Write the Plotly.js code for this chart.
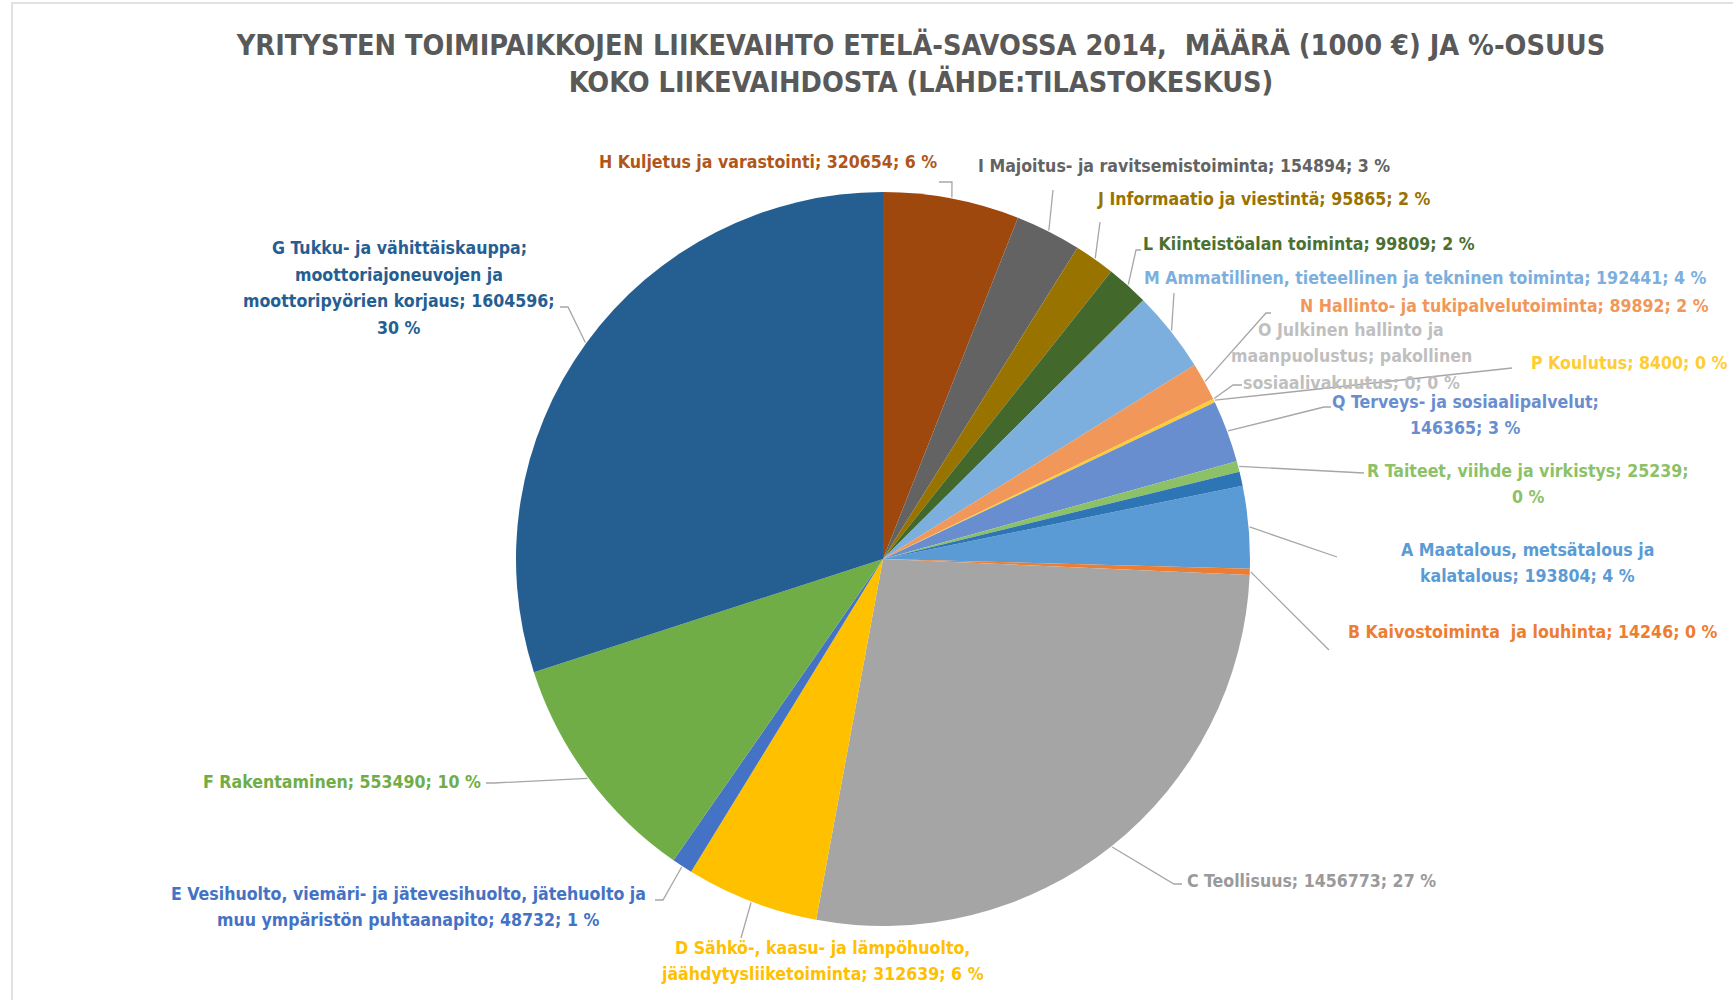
<!DOCTYPE html>
<html><head><meta charset="utf-8">
<script src="https://cdn.plot.ly/plotly-3.0.1.min.js"></script>
<style>html,body{margin:0;padding:0;background:#fff}#chart{width:1733px;height:1000px}</style>
</head><body><div id="chart"></div>
<script>
// ---- DATA ----
var codes = ['A','B','C','D','E','F','G','H','I','J','L','M','N','O','P','Q','R','S'];
var names = [
  'A Maatalous, metsätalous ja kalatalous',
  'B Kaivostoiminta  ja louhinta',
  'C Teollisuus',
  'D Sähkö-, kaasu- ja lämpöhuolto, jäähdytysliiketoiminta',
  'E Vesihuolto, viemäri- ja jätevesihuolto, jätehuolto ja muu ympäristön puhtaanapito',
  'F Rakentaminen',
  'G Tukku- ja vähittäiskauppa; moottoriajoneuvojen ja moottoripyörien korjaus',
  'H Kuljetus ja varastointi',
  'I Majoitus- ja ravitsemistoiminta',
  'J Informaatio ja viestintä',
  'L Kiinteistöalan toiminta',
  'M Ammatillinen, tieteellinen ja tekninen toiminta',
  'N Hallinto- ja tukipalvelutoiminta',
  'O Julkinen hallinto ja maanpuolustus; pakollinen sosiaalivakuutus',
  'P Koulutus',
  'Q Terveys- ja sosiaalipalvelut',
  'R Taiteet, viihde ja virkistys',
  'S Muu palvelutoiminta'
];
var values = [193804, 14246, 1456773, 312639, 48732, 553490, 1604596, 320654, 154894, 95865, 99809, 192441, 89892, 0, 8400, 146365, 25239, 33000];
var colors = ['#5B9BD5','#ED7D31','#A5A5A5','#FFC000','#4472C4','#70AD47','#255E91','#9E480E','#636363','#997300','#43682B','#7CAFDD','#F1975A','#B7B7B7','#FFCD33','#698ED0','#8CC168','#2E75B6'];
var titleText = 'YRITYSTEN TOIMIPAIKKOJEN LIIKEVAIHTO ETELÄ-SAVOSSA 2014,  MÄÄRÄ (1000 €) JA %-OSUUS<br>KOKO LIIKEVAIHDOSTA (LÄHDE:TILASTOKESKUS)';

// ---- LAYOUT (pixel positions in the 1733x1000 page) ----
var W = 1733, H = 1000;
var CX = 883, CY = 559, R = 367;
var FONT = "'DejaVu Sans Condensed', 'DejaVu Sans', sans-serif";
var LABEL_SIZE = 17.6, LINE_STEP = 26.5;
// label placement: anchor point, anchor, line breaks, leader elbow and tail
var labelSpec = {
  H: {x: 939, y: 162, xa: 'right', brk: [], elbow: [952,182], tail: [939,182], color: '#B0561A'},
  I: {x: 976, y: 166, xa: 'left', brk: [], elbow: [1053,190]},
  J: {x: 1095, y: 199, xa: 'left', brk: [], elbow: [1100,222]},
  L: {x: 1141, y: 244, xa: 'left', brk: [], elbow: [1136,250], tail: [1141,250], color: '#4A7032'},
  M: {x: 1142, y: 278, xa: 'left', brk: [], elbow: [1174,293]},
  N: {x: 1298, y: 306, xa: 'left', brk: [], elbow: [1266,313], tail: [1271,313]},
  O: {x: 1351, y: 356, xa: 'center', brk: ['hallinto ja', 'pakollinen'], elbow: [1233,385], tail: [1242,385], color: '#BFBFBF'},
  P: {x: 1529, y: 363, xa: 'left', brk: [], elbow: [1512,368]},
  Q: {x: 1465, y: 415, xa: 'center', brk: ['sosiaalipalvelut;'], elbow: [1324,407], tail: [1331,407]},
  R: {x: 1528, y: 484, xa: 'center', brk: ['25239;'], elbow: [1364,473]},
  A: {x: 1527, y: 563, xa: 'center', brk: ['metsätalous ja'], elbow: [1337,557]},
  B: {x: 1346, y: 632, xa: 'left', brk: [], elbow: [1329,650]},
  C: {x: 1185, y: 881, xa: 'left', brk: [], elbow: [1174,884], tail: [1182,884], color: '#9A9A9A'},
  D: {x: 822, y: 961, xa: 'center', brk: ['lämpöhuolto,'], elbow: [741,938]},
  E: {x: 408, y: 907, xa: 'center', brk: ['jätehuolto ja'], elbow: [663,900], tail: [655,900]},
  F: {x: 483, y: 782, xa: 'right', brk: [], elbow: [494,783], tail: [486,783]},
  G: {x: 399, y: 288, xa: 'center', brk: ['kauppa;', 'moottoriajoneuvojen ja', '1604596;'], elbow: [568,307], tail: [560,307]}
};

function px(x){ return x / W; }
function py(y){ return 1 - y / H; }

var total = values.reduce(function(a,b){return a+b;}, 0);
// Start angle so that slice H begins at 12 o'clock (as in the reference)
var beforeH = 0;
for (var i = 0; i < codes.indexOf('H'); i++) beforeH += values[i];
var rotation = -beforeH / total * 360;
while (rotation <= -180) rotation += 360;

var trace = {
  type: 'pie',
  labels: names,
  values: values,
  sort: false,
  direction: 'clockwise',
  rotation: rotation,
  marker: {colors: colors, line: {width: 0}},
  textinfo: 'none',
  hoverinfo: 'label+value+percent',
  showlegend: false,
  domain: {x: [px(CX - R), px(CX + R)], y: [py(CY + R), py(CY - R)]}
};

var annotations = [], shapes = [];
var cum = 0;
for (var k = 0; k < codes.length; k++) {
  var v = values[k];
  var startDeg = rotation + cum / total * 360;
  var midDeg = startDeg + (v / total * 360) / 2;
  cum += v;
  var spec = labelSpec[codes[k]];
  if (!spec) continue;
  var pct = Math.round(v / total * 100);
  var txt = names[k] + '; ' + v + '; ' + pct + ' %';
  spec.brk.forEach(function(b){ txt = txt.replace(b + ' ', b + '\n'); });
  var lines = txt.split('\n');
  for (var j = 0; j < lines.length; j++) {
    var yy = spec.y + (j - (lines.length - 1) / 2) * LINE_STEP;
    annotations.push({
      xref: 'paper', yref: 'paper', x: px(spec.x), y: py(yy),
      xanchor: spec.xa, yanchor: 'middle', align: 'center',
      showarrow: false, text: lines[j],
      font: {family: FONT, size: LABEL_SIZE, color: spec.color || colors[k], weight: 'bold'}
    });
  }
  var a = midDeg * Math.PI / 180;
  var ex = CX + (R + 1) * Math.sin(a), ey = CY - (R + 1) * Math.cos(a);
  var d = 'M' + px(ex) + ',' + py(ey) + ' L' + px(spec.elbow[0]) + ',' + py(spec.elbow[1]);
  if (spec.tail) d += ' L' + px(spec.tail[0]) + ',' + py(spec.tail[1]);
  shapes.push({type: 'path', xref: 'paper', yref: 'paper', path: d, line: {color: '#A6A6A6', width: 1.3}});
}
// thin chart-area border as in the screenshot
shapes.push({type: 'rect', xref: 'paper', yref: 'paper', x0: px(12), x1: 1.02, y0: -0.02, y1: py(3), line: {color: '#D9D9D9', width: 1.5}, layer: 'below'});

var layout = {
  width: W, height: H,
  margin: {l: 0, r: 0, t: 0, b: 0, pad: 0},
  paper_bgcolor: '#ffffff',
  title: {
    text: titleText,
    x: px(921), xanchor: 'center', xref: 'paper',
    y: 1 - 55 / H, yanchor: 'middle', yref: 'container',
    font: {family: FONT, size: 28.6, color: '#595959', weight: 'bold'}
  },
  annotations: annotations,
  shapes: shapes
};

Plotly.newPlot('chart', [trace], layout, {displayModeBar: false, responsive: false});
</script>
</body></html>
